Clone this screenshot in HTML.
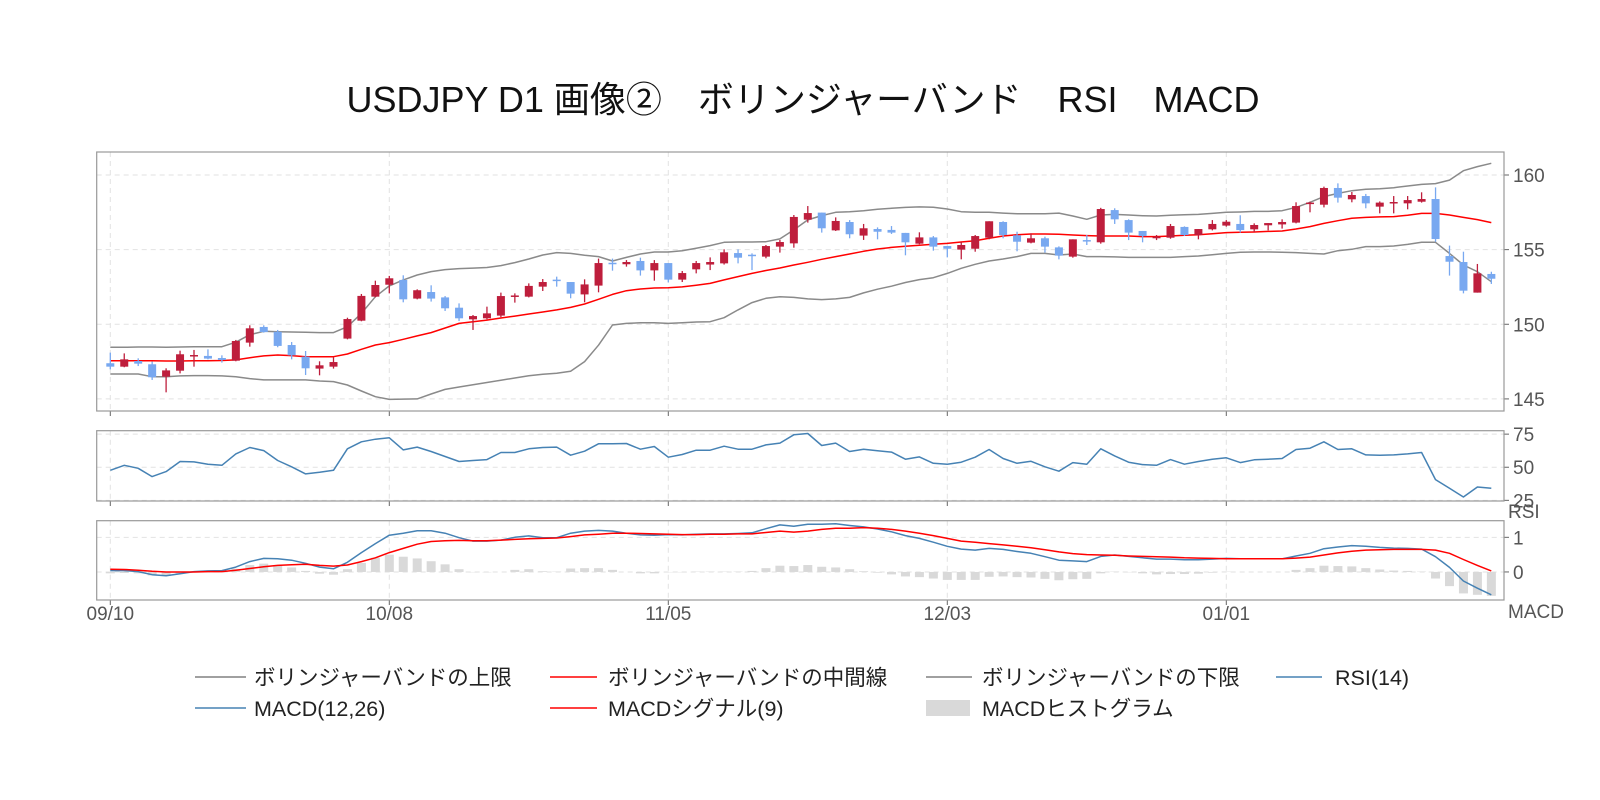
<!DOCTYPE html>
<html><head><meta charset="utf-8">
<style>
html,body{margin:0;padding:0;background:#fff;}
svg{display:block;font-family:"Liberation Sans","Noto Sans CJK JP",sans-serif;}
</style></head>
<body>
<svg id="chart" width="1600" height="800" viewBox="0 0 1600 800" xmlns="http://www.w3.org/2000/svg">
<rect x="0" y="0" width="1600" height="800" fill="#fff"/>
<text x="803" y="112" text-anchor="middle" font-size="36" fill="#111">USDJPY D1 画像②　ボリンジャーバンド　RSI　MACD</text>
<g id="plots"></g>
<g font-size="21.5" fill="#222">
  <line x1="195" y1="677" x2="246" y2="677" stroke="#808080" stroke-width="1.5"/>
  <text x="254" y="685">ボリンジャーバンドの上限</text>
  <line x1="550" y1="677" x2="597" y2="677" stroke="#ff0000" stroke-width="1.5"/>
  <text x="608" y="685">ボリンジャーバンドの中間線</text>
  <line x1="926" y1="677" x2="972" y2="677" stroke="#808080" stroke-width="1.5"/>
  <text x="982" y="685">ボリンジャーバンドの下限</text>
  <line x1="1276" y1="677" x2="1322" y2="677" stroke="#4682b4" stroke-width="1.5"/>
  <text x="1335" y="685">RSI(14)</text>
  <line x1="195" y1="708" x2="246" y2="708" stroke="#4682b4" stroke-width="1.5"/>
  <text x="254" y="716">MACD(12,26)</text>
  <line x1="550" y1="708" x2="597" y2="708" stroke="#ff0000" stroke-width="1.5"/>
  <text x="608" y="716">MACDシグナル(9)</text>
  <rect x="926" y="700" width="44" height="16" fill="#d9d9d9"/>
  <text x="982" y="716">MACDヒストグラム</text>
</g>
</svg>
<script>
const dateLabels=["09/10","10/08","11/05","12/03","01/01"];
const dateIdx=[0,20,40,60,80];
const opens=[147.39,147.16,147.54,147.32,146.49,146.89,147.88,147.88,147.74,147.56,148.77,149.82,149.5,148.61,147.83,147.03,147.16,149.04,150.24,151.85,152.65,152.97,151.72,152.16,151.8,151.11,150.33,150.4,150.58,151.87,151.85,152.52,152.99,152.83,152.0,152.59,154.12,154.02,154.24,153.61,154.1,152.99,153.68,154.0,154.08,154.77,154.66,154.53,155.2,155.42,157.01,157.48,156.29,156.85,155.94,156.38,156.32,156.12,155.4,155.82,155.24,155.0,155.06,155.8,156.85,155.96,155.47,155.76,155.15,154.53,155.64,155.49,157.65,156.98,156.25,155.76,155.8,156.52,155.98,156.36,156.61,156.72,156.36,156.63,156.69,156.81,158.06,158.01,159.13,158.37,158.59,157.88,158.1,158.1,158.21,158.39,154.57,154.17,152.12,153.37];
const highs=[148.1,148.05,147.72,147.5,147.05,148.23,148.28,148.32,147.92,148.95,149.93,149.93,149.62,148.81,148.21,147.52,147.79,150.44,152.03,152.92,153.24,153.28,152.34,152.61,151.89,151.4,150.62,151.18,152.12,152.07,152.74,153.03,153.19,152.83,153.01,154.4,154.4,154.3,154.46,154.3,154.1,153.57,154.24,154.48,155.02,155.02,154.75,155.31,155.65,157.32,157.92,157.48,157.16,156.98,156.72,156.49,156.58,156.12,156.16,155.91,155.24,155.51,155.98,156.9,156.9,156.2,156.09,155.87,155.22,155.69,155.98,157.8,157.77,157.03,156.25,155.98,156.72,156.56,156.38,156.98,156.98,157.3,156.76,156.78,157.03,158.17,158.21,159.22,159.44,158.86,158.73,158.23,158.59,158.59,158.84,159.17,155.27,154.86,154.04,153.52];
const lows=[146.98,147.12,147.2,146.27,145.44,146.71,147.16,147.65,147.43,147.52,148.5,149.44,148.46,147.65,146.6,146.58,147.03,148.99,150.2,151.81,152.07,151.47,151.67,151.52,150.89,150.22,149.62,150.33,150.47,151.45,151.8,152.23,152.52,151.74,151.47,152.14,153.59,153.86,153.26,152.92,152.81,152.83,153.41,153.63,154.0,154.08,153.63,154.42,154.8,155.13,156.81,156.14,156.25,155.76,155.65,155.69,156.05,154.62,155.36,154.93,154.48,154.35,154.86,155.69,155.76,154.89,155.42,154.8,154.35,154.46,155.31,155.4,156.72,155.64,155.49,155.64,155.73,155.91,155.69,156.29,156.54,156.14,156.18,156.29,156.41,156.76,157.5,157.83,158.15,158.17,157.77,157.43,157.43,157.7,158.15,155.53,153.26,152.07,152.12,152.7];
const closes=[147.16,147.65,147.36,146.45,146.91,147.99,147.94,147.7,147.61,148.88,149.73,149.48,148.55,147.92,147.05,147.25,147.47,150.35,151.9,152.63,153.08,151.67,152.28,151.72,151.07,150.4,150.55,150.73,151.89,151.93,152.57,152.83,152.92,152.05,152.67,154.1,154.03,154.17,153.61,154.1,152.99,153.43,154.1,154.17,154.82,154.46,154.57,155.24,155.51,157.19,157.45,156.43,156.92,156.03,156.43,156.2,156.14,155.49,155.82,155.2,155.06,155.31,155.91,156.9,155.98,155.53,155.76,155.2,154.6,155.69,155.55,157.72,157.03,156.14,155.91,155.87,156.58,155.98,156.38,156.72,156.87,156.31,156.65,156.78,156.85,157.92,158.15,159.13,158.48,158.66,158.1,158.15,158.19,158.32,158.39,155.71,154.19,152.25,153.41,153.05];
const bbUpper=[148.46,148.46,148.48,148.48,148.46,148.48,148.5,148.5,148.5,148.8,149.3,149.53,149.5,149.48,149.46,149.44,149.44,149.84,150.73,151.85,152.57,152.97,153.3,153.53,153.66,153.73,153.76,153.8,153.93,154.13,154.37,154.64,154.8,154.75,154.62,154.53,154.24,154.48,154.71,154.84,154.84,154.93,155.09,155.27,155.49,155.51,155.51,155.53,155.72,156.32,156.99,157.28,157.5,157.54,157.61,157.7,157.77,157.83,157.86,157.84,157.72,157.54,157.5,157.5,157.45,157.41,157.4,157.41,157.45,157.25,157.03,157.32,157.36,157.32,157.27,157.25,157.3,157.34,157.36,157.43,157.5,157.52,157.56,157.56,157.61,157.83,158.17,158.55,158.77,158.95,159.04,159.08,159.15,159.26,159.37,159.42,159.66,160.29,160.56,160.78];
const bbMid=[147.56,147.56,147.55,147.55,147.54,147.54,147.56,147.56,147.57,147.61,147.76,147.88,147.94,147.9,147.83,147.83,147.83,148.01,148.32,148.61,148.77,148.99,149.22,149.44,149.75,150.06,150.17,150.28,150.42,150.55,150.69,150.82,150.96,151.13,151.36,151.67,152.0,152.25,152.36,152.43,152.45,152.5,152.61,152.74,152.97,153.19,153.41,153.6,153.77,153.97,154.15,154.35,154.53,154.71,154.89,155.04,155.15,155.22,155.29,155.36,155.42,155.51,155.6,155.76,155.91,156.0,156.05,156.05,156.03,155.98,155.94,155.91,155.91,155.91,155.87,155.87,155.91,155.96,156.0,156.07,156.14,156.16,156.18,156.22,156.25,156.38,156.54,156.76,156.94,157.1,157.16,157.19,157.21,157.3,157.43,157.43,157.32,157.16,157.01,156.81];
const bbLower=[146.67,146.67,146.67,146.49,146.49,146.54,146.56,146.56,146.54,146.49,146.36,146.27,146.27,146.27,146.27,146.2,146.16,145.93,145.53,145.15,144.97,144.99,145.0,145.33,145.64,145.8,145.95,146.1,146.25,146.4,146.55,146.65,146.72,146.85,147.5,148.6,149.95,150.06,150.1,150.1,150.06,150.1,150.15,150.17,150.44,150.96,151.45,151.74,151.85,151.8,151.7,151.65,151.7,151.8,152.1,152.35,152.55,152.8,152.99,153.12,153.41,153.75,154.02,154.24,154.37,154.53,154.75,154.75,154.64,154.71,154.53,154.53,154.51,154.48,154.48,154.48,154.48,154.53,154.57,154.66,154.75,154.82,154.84,154.84,154.82,154.8,154.75,154.71,154.93,155.02,155.2,155.2,155.24,155.35,155.49,155.49,154.75,153.97,153.52,152.85];
const rsi=[47.7,51.5,49.2,42.9,46.7,54.3,54.0,52.3,51.5,60.1,64.9,62.6,55.1,50.3,45.0,46.2,47.7,63.9,69.2,71.2,72.2,63.1,65.2,61.9,58.1,54.3,55.1,55.8,61.1,61.1,63.9,64.9,65.2,59.1,62.1,67.7,67.7,67.9,63.6,65.7,57.6,59.6,62.9,62.9,65.9,63.6,63.6,66.9,68.2,74.5,75.5,66.4,68.2,61.9,63.6,62.4,61.4,56.1,57.8,53.0,52.3,53.8,57.6,63.4,56.6,53.0,54.5,50.3,47.0,53.5,52.3,63.9,58.6,53.8,52.0,51.5,55.8,52.3,54.3,56.1,57.1,53.5,55.6,56.1,56.6,63.4,64.4,69.2,63.4,63.9,59.3,59.1,59.3,60.1,61.1,40.7,34.1,27.5,35.1,34.1];
const macd=[0.04,0.04,0.01,-0.08,-0.11,-0.05,0.01,0.03,0.04,0.14,0.30,0.39,0.38,0.34,0.25,0.14,0.09,0.28,0.56,0.82,1.06,1.12,1.19,1.19,1.12,0.99,0.89,0.89,0.92,1.0,1.04,0.99,0.99,1.12,1.18,1.2,1.18,1.12,1.07,1.06,1.08,1.07,1.09,1.10,1.10,1.11,1.13,1.25,1.36,1.32,1.38,1.38,1.39,1.34,1.30,1.24,1.16,1.05,0.97,0.86,0.74,0.66,0.63,0.68,0.65,0.59,0.54,0.44,0.34,0.32,0.30,0.45,0.49,0.45,0.41,0.37,0.37,0.35,0.35,0.37,0.39,0.38,0.38,0.38,0.38,0.46,0.54,0.67,0.72,0.76,0.74,0.71,0.69,0.68,0.66,0.44,0.13,-0.26,-0.47,-0.66];
const signal=[0.08,0.07,0.05,0.02,0,0,0,0.01,0.01,0.05,0.10,0.15,0.19,0.21,0.22,0.19,0.17,0.20,0.30,0.41,0.56,0.68,0.80,0.88,0.90,0.91,0.90,0.90,0.92,0.94,0.96,0.97,0.98,1.02,1.07,1.09,1.12,1.12,1.11,1.10,1.09,1.08,1.08,1.09,1.09,1.10,1.10,1.14,1.18,1.15,1.18,1.23,1.26,1.26,1.28,1.26,1.23,1.18,1.12,1.05,0.97,0.89,0.86,0.82,0.78,0.74,0.70,0.64,0.58,0.53,0.50,0.49,0.48,0.46,0.45,0.44,0.43,0.41,0.40,0.39,0.38,0.38,0.38,0.38,0.38,0.40,0.43,0.49,0.55,0.60,0.63,0.64,0.65,0.65,0.65,0.63,0.54,0.36,0.19,0.03];
const mainTicks=[145,150,155,160];
const rsiTicks=[25,50,75];
const macdTicks=[0,1];

const NS="http://www.w3.org/2000/svg";
const root=document.getElementById('plots');
const L=96.7,R=1504;
function xAt(i){return 110.3+13.95*i;}
function mk(tag,attrs,parent){const e=document.createElementNS(NS,tag);for(const k in attrs)e.setAttribute(k,attrs[k]);(parent||root).appendChild(e);return e;}
function scale(vTop,vBot,yTop,yBot){return v=>yTop+(vTop-v)/(vTop-vBot)*(yBot-yTop);}
const panels=[
 {name:'price-panel',top:152,bot:411,vTop:161.54,vBot:144.19,ticks:mainTicks},
 {name:'rsi-panel',top:430.7,bot:501,vTop:77.6,vBot:24.5,ticks:rsiTicks},
 {name:'macd-panel',top:520.7,bot:600,vTop:1.48,vBot:-0.81,ticks:macdTicks}
];
panels.forEach(p=>{
  p.y=scale(p.vTop,p.vBot,p.top,p.bot);
  const g=mk('g',{});
  
  
  p.g=g;
  dateIdx.forEach(i=>{
    const l=mk('line',{x1:xAt(i),x2:xAt(i),y1:p.top,y2:p.bot,stroke:'#e2e2e2','stroke-dasharray':'5,4','stroke-width':1},g);
    
    
    const t=mk('line',{x1:xAt(i),x2:xAt(i),y1:p.bot,y2:p.bot+5,stroke:'#666','stroke-width':1},g);
    
    
  });
  p.ticks.forEach(v=>{
    const y=p.y(v);
    const l=mk('line',{x1:L,x2:R,y1:y,y2:y,stroke:'#e2e2e2','stroke-dasharray':'5,4','stroke-width':1},g);
    
    
    const t=mk('line',{x1:R,x2:R+5,y1:y,y2:y,stroke:'#666','stroke-width':1},g);
    
    
    const tx=mk('text',{x:R+9,y:y+7,'font-size':19,fill:'#555'},g);
    tx.textContent=String(v);
    
    
  });
});
function poly(p,arr,color,name,w){
  const pts=arr.map((v,i)=>xAt(i).toFixed(1)+','+p.y(v).toFixed(1)).join(' ');
  const e=mk('polyline',{points:pts,fill:'none',stroke:color,'stroke-width':w||1.5,'stroke-linejoin':'round'},p.g);
  
  
}
const P=panels[0];
poly(P,bbUpper,'#8a8a8a','bb-upper-line');
poly(P,bbLower,'#8a8a8a','bb-lower-line');
poly(P,bbMid,'#ff0000','bb-mid-line');
opens.forEach((o,i)=>{
  const c=closes[i],up=c>=o,col=up?'#be1e3c':'#78a8f0';
  const x=xAt(i);
  const w=mk('line',{x1:x,x2:x,y1:P.y(highs[i]),y2:P.y(lows[i]),stroke:col,'stroke-width':1.3},P.g);
  
  
  const yt=P.y(Math.max(o,c)),yb=P.y(Math.min(o,c));
  const b=mk('rect',{x:x-4,y:yt,width:8,height:Math.max(1.5,yb-yt),fill:col},P.g);
  
  
});
poly(panels[1],rsi,'#4682b4','rsi-line');
const M=panels[2];
macd.forEach((m,i)=>{
  const h=m-signal[i];
  const y0=M.y(0),y1=M.y(h);
  const r=mk('rect',{x:xAt(i)-4.5,y:Math.min(y0,y1),width:9,height:Math.abs(y1-y0),fill:'#d9d9d9'},M.g);
  
  
});
poly(M,macd,'#4682b4','macd-line');
poly(M,signal,'#ff0000','signal-line');
panels.forEach(p=>{
  const b=mk('rect',{x:L,y:p.top,width:R-L,height:p.bot-p.top,fill:'none',stroke:'#999','stroke-width':1.2},p.g);
  
  
});
dateIdx.forEach((i,k)=>{
  const t=mk('text',{x:xAt(i),y:620,'text-anchor':'middle','font-size':19,fill:'#555'});
  t.textContent=dateLabels[k];
  
  
});
const rl=mk('text',{x:1508,y:518,'font-size':19,fill:'#555'});
rl.textContent='RSI';


const ml=mk('text',{x:1508,y:618,'font-size':19,fill:'#555'});
ml.textContent='MACD';


</script>
</body></html>
